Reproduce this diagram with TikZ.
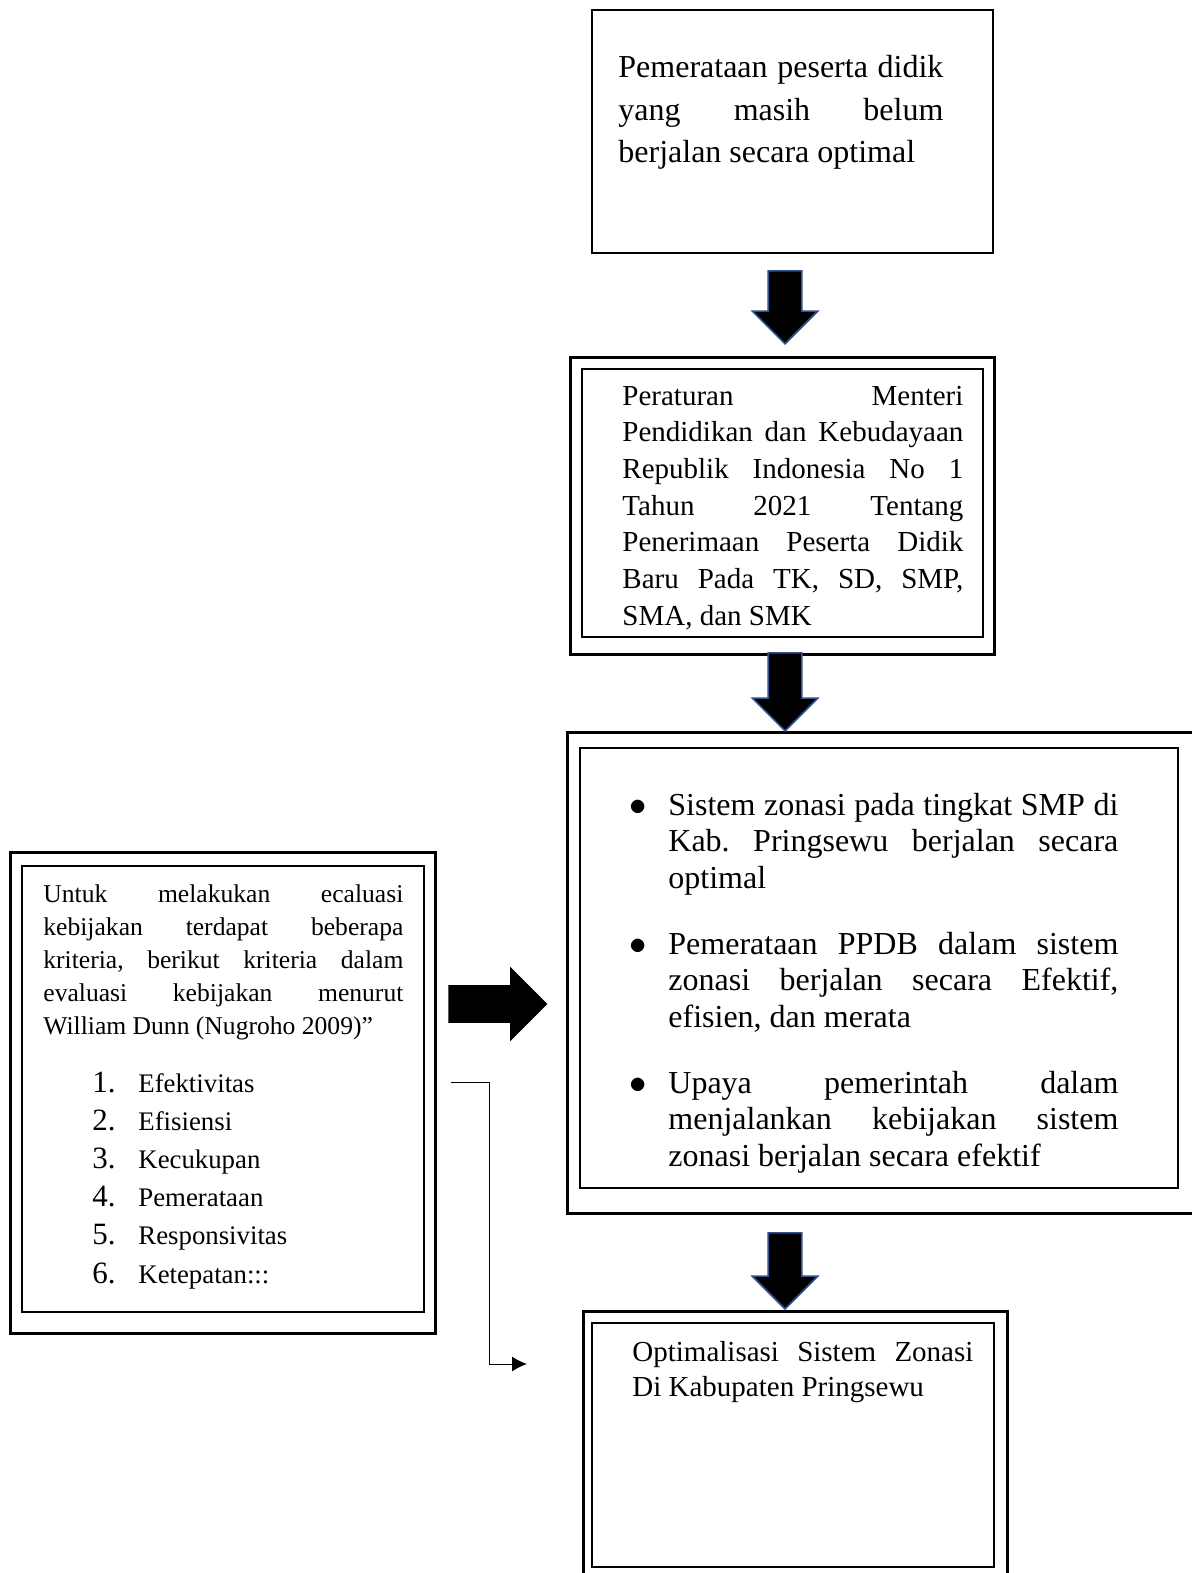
\documentclass[tikz,border=0pt]{standalone}
\usepackage{fontspec}
\setmainfont{Liberation Serif}
\usepackage{xcolor}
\tikzset{>=latex}
\usetikzlibrary{shapes.arrows,arrows.meta}
\definecolor{arrowblue}{RGB}{47,82,143}
\hyphenpenalty=10000
\exhyphenpenalty=10000
\hbadness=10000
\frenchspacing

\begin{document}
\begin{tikzpicture}[x=0.5pt, y=-0.5pt,
    thinframe/.style={draw, line width=0.65pt},
    thickframe/.style={draw, line width=1.5pt},
    bodytext/.style={anchor=base west, inner sep=0pt, align=justify},
    downblock/.style={single arrow, draw=arrowblue, line width=0.8pt, fill=black,
      shape border rotate=270, inner sep=8pt, minimum width=32pt,
      single arrow head extend=8pt},
    rightblock/.style={single arrow, fill=black, inner sep=9.25pt,
      minimum width=37pt, minimum height=49.5pt, single arrow head extend=9.25pt},
    numlabel/.style={anchor=base west, inner sep=0pt, font=\fontsize{15.5}{18}\selectfont},
    itemlabel/.style={anchor=base west, inner sep=0pt, font=\fontsize{13.4}{16}\selectfont}]
    \path[fill=white, use as bounding box] (0, 0) rectangle (1192, 1573);
    \clip (0, 0) rectangle (1192, 1573);

    % frames
    \draw[thinframe, line width=0.75pt] (592, 10) rectangle (993, 253);
    \draw[thickframe] (570, 357) rectangle (994, 654);
    \draw[thinframe] (582, 369) rectangle (983, 637);
    \draw[thickframe] (567, 732) rectangle (1205, 1213);
    \draw[thinframe] (580, 748) rectangle (1178, 1188);
    \draw[thickframe] (10, 852) rectangle (435, 1333);
    \draw[thinframe] (22, 866) rectangle (424, 1312);
    \draw[thickframe] (583, 1311) rectangle (1007, 1590);
    \draw[thinframe] (592, 1323) rectangle (994, 1567);

    % texts
    \node[bodytext, text width=162.5pt, font=\fontsize{16}{21.25}\selectfont] (masalah) at (618, 78)
      {Pemerataan peserta didik\linebreak yang masih belum\linebreak berjalan secara optimal};
    \node[bodytext, text width=170.5pt, font=\fontsize{14.5}{18.35}\selectfont] (peraturan) at (622, 405)
      {Peraturan Menteri\linebreak Pendidikan dan Kebudayaan\linebreak Republik Indonesia No 1\linebreak
       Tahun 2021 Tentang\linebreak Penerimaan Peserta Didik\linebreak Baru Pada TK, SD, SMP,\linebreak
       SMA, dan SMK};
    \node[bodytext, text width=225pt, font=\fontsize{16}{18.25}\selectfont] (harapan) at (668, 815)
      {\leavevmode\llap{$\bullet$\hspace{10.75pt}}Sistem zonasi pada tingkat SMP di\linebreak
       Kab. Pringsewu berjalan secara\linebreak optimal\par\vspace{14.75pt}
       \leavevmode\llap{$\bullet$\hspace{10.75pt}}Pemerataan PPDB dalam sistem\linebreak
       zonasi berjalan secara Efektif,\linebreak efisien, dan merata\par\vspace{14.75pt}
       \leavevmode\llap{$\bullet$\hspace{10.75pt}}Upaya pemerintah dalam\linebreak
       menjalankan kebijakan sistem\linebreak zonasi berjalan secara efektif};
    \node[bodytext, text width=180pt, font=\fontsize{12.8}{16.5}\selectfont] (kriteria) at (43, 902)
      {Untuk melakukan ecaluasi\linebreak kebijakan terdapat beberapa\linebreak
       kriteria, berikut kriteria dalam\linebreak evaluasi kebijakan menurut\linebreak
       William Dunn (Nugroho 2009)”};
    \foreach \crit [count=\i] in {Efektivitas, Efisiensi, Kecukupan, Pemerataan, Responsivitas, Ketepatan:::} {
      \node[numlabel] (num\i) at (92, {1092 + 38.2*(\i - 1)}) {\i.};
      \node[itemlabel] (item\i) at (138, {1092 + 38.2*(\i - 1)}) {\crit};
    }
    \node[bodytext, text width=170.5pt, font=\fontsize{14.5}{17.5}\selectfont] (tujuan) at (632, 1361)
      {Optimalisasi Sistem Zonasi\linebreak Di Kabupaten Pringsewu};

    % block arrows
    \node[downblock, minimum height=36.5pt, anchor=tip] (panah1) at (785, 345) {};
    \node[downblock, minimum height=39pt, anchor=tip] (panah2) at (785, 732) {};
    \node[downblock, minimum height=38pt, anchor=tip] (panah3) at (785, 1310) {};
    \node[rightblock, anchor=tip] (panah4) at (548, 1004) {};

    % elbow connector
    \coordinate (awal) at (451, 1082);
    \coordinate (akhir) at (527, 1364);
    \draw[-{Latex[length=7.5pt, width=7.5pt]}, line width=0.5pt] (awal) -- (489, 1082) |- (akhir);
  \end{tikzpicture}
\end{document}
